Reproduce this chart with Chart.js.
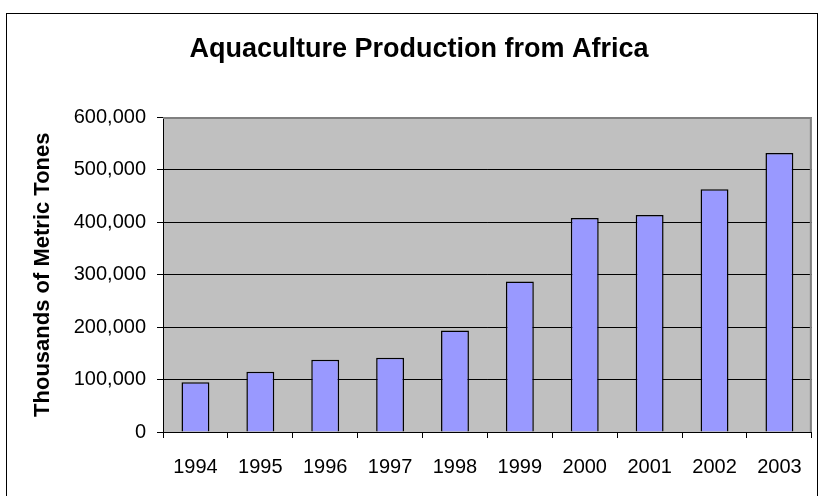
<!DOCTYPE html>
<html>
<head>
<meta charset="utf-8">
<script src="https://cdn.jsdelivr.net/npm/chart.js@4"></script>
<style>
  body { margin: 0; background: #fff; }
  #wrap { position: relative; width: 819px; height: 496px; }
  #frame { position: absolute; left: 6px; top: 13px; width: 812px; height: 490px;
           border: 1px solid #000; border-bottom: none; box-sizing: border-box; }
  canvas { position: absolute; left: 0; top: 0; }
</style>
</head>
<body>
<div id="wrap">
  <div id="frame"></div>
  <canvas id="aquaChart" width="819" height="496"></canvas>
</div>
<script>
const years = ['1994', '1995', '1996', '1997', '1998', '1999', '2000', '2001', '2002', '2003'];
const production = [94700, 114900, 137700, 141500, 193700, 287000, 408200, 414000, 463000, 532000];
const yTicks = [0, 100000, 200000, 300000, 400000, 500000, 600000];

const plotBg = {
    id: 'plotBg',
    beforeDraw(chart) {
        const a = chart.chartArea;
        const ctx = chart.ctx;
        ctx.save();
        ctx.fillStyle = '#C0C0C0';
        ctx.fillRect(a.left, a.top, a.right - a.left, a.bottom - a.top);
        ctx.restore();
    },
    afterDraw(chart) {
        const a = chart.chartArea;
        const ctx = chart.ctx;
        ctx.save();
        ctx.strokeStyle = '#808080';
        ctx.lineWidth = 2;
        ctx.beginPath();
        ctx.moveTo(a.left, a.top + 0.5);
        ctx.lineTo(a.right, a.top + 0.5);
        ctx.moveTo(a.right - 1, a.top);
        ctx.lineTo(a.right - 1, a.bottom);
        ctx.stroke();
        ctx.restore();
    }
};

const ctx = document.getElementById('aquaChart').getContext('2d');
const aquaChart = new Chart(ctx, {
    type: 'bar',
    data: {
        labels: years,
        datasets: [{
            label: 'Production',
            data: production,
            backgroundColor: '#9999FF',
            borderColor: '#000000',
            borderWidth: 1.5,
            barPercentage: 0.43,
            categoryPercentage: 1
        }]
    },
    options: {
        responsive: false,
        animation: false,
        layout: { padding: { left: 26, right: 7, top: 0, bottom: 0 } },
        plugins: {
            legend: { display: false },
            tooltip: { enabled: false },
            title: {
                display: true,
                text: 'Aquaculture Production from Africa',
                color: '#000',
                font: { family: 'Liberation Sans', size: 27, weight: 'bold' },
                padding: { top: 33, bottom: 52 }
            }
        },
        scales: {
            x: {
                grid: { display: true, drawOnChartArea: false, color: '#000', tickLength: 6, offset: true },
                border: { color: '#000', width: 1 },
                ticks: { color: '#000', font: { family: 'Liberation Sans', size: 20 }, padding: 17, maxRotation: 0 },
                afterFit(scale) { scale.height = 64; }
            },
            y: {
                min: 0,
                max: 600000,
                afterBuildTicks(scale) { scale.ticks = yTicks.map(v => ({ value: v })); },
                grid: {
                    color: ctx => ctx.tick && ctx.tick.value === 600000 ? '#808080' : '#000',
                    tickColor: '#000',
                    tickLength: 6
                },
                border: { color: '#000', width: 1 },
                ticks: {
                    color: '#000',
                    padding: 11,
                    font: { family: 'Liberation Sans', size: 20 },
                    callback: v => v.toLocaleString('en-US')
                },
                title: {
                    display: true,
                    text: 'Thousands of Metric Tones',
                    color: '#000',
                    font: { family: 'Liberation Sans', size: 22, weight: 'bold' },
                    padding: { top: 4, bottom: 0 }
                },
                afterFit(scale) { scale.width = 137; }
            }
        }
    },
    plugins: [plotBg]
});
</script>
</body>
</html>
